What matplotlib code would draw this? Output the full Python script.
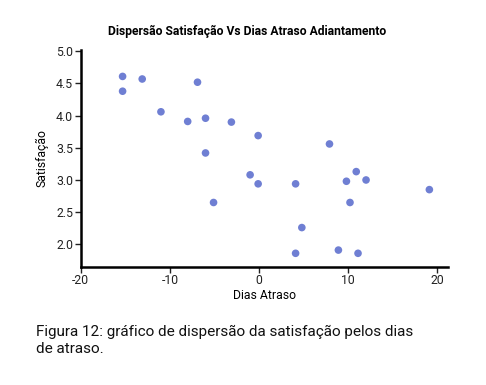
import matplotlib
matplotlib.use("Agg")
import matplotlib.pyplot as plt

# dados
dias_atraso = [-15.3, -15.3, -13.1, -6.9, -11.0, -8.0, -6.0, -3.1, -0.1, -6.0,
               7.9, -1.0, -0.1, -5.1, 4.1, 10.9, 9.8, 12.0, 19.1, 10.2,
               4.8, 4.1, 8.9, 11.1]
satisfacao = [4.61, 4.38, 4.57, 4.52, 4.06, 3.91, 3.96, 3.90, 3.69, 3.42,
              3.56, 3.08, 2.94, 2.65, 2.94, 3.13, 2.98, 3.00, 2.85, 2.65,
              2.26, 1.86, 1.91, 1.86]
x_ticks = [-20, -10, 0, 10, 20]
y_ticks = [2.0, 2.5, 3.0, 3.5, 4.0, 4.5, 5.0]

plt.rcParams['font.family'] = ['Roboto', 'DejaVu Sans']

fig = plt.figure(figsize=(4.86, 3.85), dpi=100)
ax = fig.add_axes([0.166, 0.307, 0.756, 0.563])

ax.scatter(dias_atraso, satisfacao, s=30, color='#6f7fd3', edgecolors='none', zorder=3)

ax.set_xlim(-20, 21.2)
ax.set_ylim(1.65, 5.02)
ax.set_xticks(x_ticks)
ax.set_xticklabels([str(t) for t in x_ticks])
ax.set_yticks(y_ticks)
ax.set_yticklabels([f"{t:.1f}" for t in y_ticks])

for s in ['top', 'right']:
    ax.spines[s].set_visible(False)
for s in ['left', 'bottom']:
    ax.spines[s].set_linewidth(1.8)
    ax.spines[s].set_color('black')
ax.tick_params(axis='both', labelsize=8.8, length=4, width=1, colors='#222222', pad=1.5)

ax.set_xlabel('Dias Atraso', fontsize=8.8, labelpad=1)
ax.set_ylabel('Satisfação', fontsize=8.8, labelpad=5)

fig.text(0.508, 0.917, 'Dispersão Satisfação Vs Dias Atraso Adiantamento',
         ha='center', va='center', fontsize=8.7, fontweight='bold')

fig.text(0.074, 0.115, 'Figura 12: gráfico de dispersão da satisfação pelos dias\nde atraso.',
         ha='left', va='center', fontsize=11, linespacing=1.25, color='#111111')

fig.savefig('out.png', dpi=100)
